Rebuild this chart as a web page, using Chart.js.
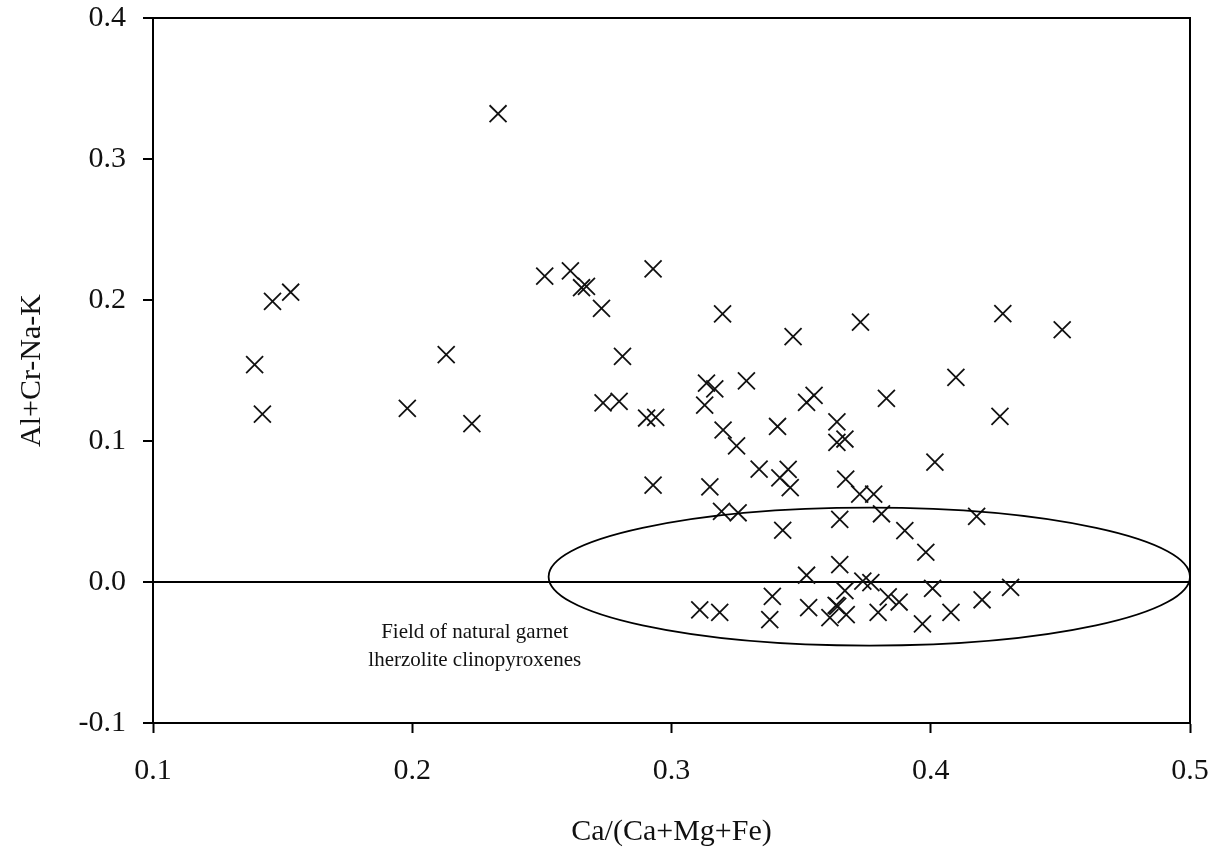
<!DOCTYPE html>
<html>
<head>
<meta charset="utf-8">
<script src="https://cdn.jsdelivr.net/npm/chart.js@4.4.1/dist/chart.umd.min.js"></script>
<style>
  html, body { margin: 0; padding: 0; background: #fff; }
  #wrap { width: 1217px; height: 854px; }
</style>
</head>
<body>
<div id="wrap"><canvas id="cpxChart" width="1217" height="854"></canvas></div>
<script>
// clinopyroxene analyses: Ca/(Ca+Mg+Fe) vs Al+Cr-Na-K
const caRatio = [
  0.1392, 0.1422, 0.1461, 0.1531, 0.1981, 0.2131, 0.2230, 0.2331, 0.2511, 0.2610,
  0.2653, 0.2672, 0.2730, 0.2811, 0.2929, 0.2736, 0.2798, 0.2904, 0.2939, 0.2929,
  0.3135, 0.3167, 0.3289, 0.3128, 0.3197, 0.3469, 0.3729, 0.4278, 0.4507, 0.4097,
  0.3829, 0.4267, 0.3521, 0.3550, 0.3199, 0.3251, 0.3409, 0.3638, 0.3638, 0.3669,
  0.3338, 0.3418, 0.3450, 0.3458, 0.3672, 0.3726, 0.3780, 0.4016, 0.3148, 0.3193,
  0.3257, 0.3429, 0.3649, 0.3810, 0.3900, 0.4177, 0.3981, 0.3521, 0.3649, 0.3738,
  0.3769, 0.3669, 0.3389, 0.3836, 0.3878, 0.4007, 0.4308, 0.4198, 0.4078, 0.3968,
  0.3797, 0.3674, 0.3611, 0.3635, 0.3641, 0.3529, 0.3379, 0.3109, 0.3186
];
const alCrNaK = [
  0.1541, 0.1191, 0.1990, 0.2055, 0.1231, 0.1612, 0.1123, 0.3321, 0.2169, 0.2206,
  0.2087, 0.2096, 0.1940, 0.1600, 0.2221, 0.1270, 0.1281, 0.1163, 0.1167, 0.0687,
  0.1411, 0.1369, 0.1426, 0.1254, 0.1901, 0.1740, 0.1843, 0.1903, 0.1789, 0.1451,
  0.1302, 0.1174, 0.1274, 0.1323, 0.1078, 0.0965, 0.1103, 0.1135, 0.0990, 0.1014,
  0.0801, 0.0738, 0.0799, 0.0670, 0.0730, 0.0623, 0.0623, 0.0850, 0.0674, 0.0501,
  0.0491, 0.0367, 0.0444, 0.0484, 0.0364, 0.0465, 0.0211, 0.0048, 0.0123, 0.0006,
  -0.0005, -0.0062, -0.0102, -0.0106, -0.0142, -0.0046, -0.0038, -0.0126, -0.0216, -0.0297,
  -0.0216, -0.0232, -0.0252, -0.0165, -0.0172, -0.0182, -0.0267, -0.0197, -0.0216
];

// garnet lherzolite field drawn as an ellipse (centre and half-widths in data units)
const fieldCenter = [0.3763, 0.0038];
const fieldRadius = [0.1237, 0.0489];
const fieldLabel = ["Field of natural garnet", "lherzolite clinopyroxenes"];
const fieldLabelPos = [0.2241, -0.0459];

const xTitle = "Ca/(Ca+Mg+Fe)";
const yTitle = "Al+Cr-Na-K";
const serif = "'Liberation Serif', 'Times New Roman', serif";

let points = [];
for (let i = 0; i < caRatio.length; i++) {
    points.push({ x: caRatio[i], y: alCrNaK[i] });
}

const framePlugin = {
    id: 'frame',
    afterDatasetsDraw(chart) {
        const ctx = chart.ctx;
        const xs = chart.scales.x, ys = chart.scales.y;
        const a = chart.chartArea;
        ctx.save();
        ctx.strokeStyle = '#000';
        ctx.lineWidth = 2;
        ctx.strokeRect(a.left, a.top, a.right - a.left, a.bottom - a.top);

        // field ellipse
        const cx = xs.getPixelForValue(fieldCenter[0]);
        const cy = ys.getPixelForValue(fieldCenter[1]);
        const rx = xs.getPixelForValue(fieldCenter[0] + fieldRadius[0]) - cx;
        const ry = cy - ys.getPixelForValue(fieldCenter[1] + fieldRadius[1]);
        ctx.beginPath();
        ctx.ellipse(cx, cy, rx, ry, 0, 0, Math.PI * 2);
        ctx.lineWidth = 1.8;
        ctx.stroke();

        // field label
        ctx.fillStyle = '#111';
        ctx.font = "21px " + serif;
        ctx.textAlign = 'center';
        ctx.textBaseline = 'middle';
        const lx = xs.getPixelForValue(fieldLabelPos[0]);
        const ly = ys.getPixelForValue(fieldLabelPos[1]);
        ctx.fillText(fieldLabel[0], lx, ly - 14);
        ctx.fillText(fieldLabel[1], lx, ly + 14);
        ctx.restore();
    }
};

new Chart("cpxChart", {
    type: "scatter",
    data: {
        datasets: [{
            data: points,
            pointStyle: 'crossRot',
            pointRadius: 12,
            pointHoverRadius: 12,
            borderColor: '#111',
            borderWidth: 1.8,
            backgroundColor: '#111'
        }]
    },
    options: {
        responsive: false,
        animation: false,
        events: [],
        layout: { padding: { top: 18, right: 27, left: 0, bottom: 0 } },
        plugins: {
            legend: { display: false },
            tooltip: { enabled: false }
        },
        scales: {
            x: {
                type: 'linear',
                min: 0.1,
                max: 0.5,
                afterFit: (scale) => {
                    scale.height = 131;
                    scale.paddingLeft = 0;
                    scale.paddingRight = 0;
                },
                ticks: {
                    stepSize: 0.1,
                    color: '#111',
                    font: { family: serif, size: 30 },
                    padding: 20,
                    callback: (v) => v.toFixed(1)
                },
                grid: {
                    drawOnChartArea: false,
                    tickColor: '#000',
                    tickLength: 10,
                    tickWidth: 2
                },
                border: { color: '#000', width: 2 },
                title: {
                    display: true,
                    text: xTitle,
                    color: '#111',
                    font: { family: serif, size: 30 },
                    padding: { top: 16 }
                }
            },
            y: {
                type: 'linear',
                min: -0.1,
                max: 0.4,
                afterFit: (scale) => {
                    scale.width = 153;
                    scale.paddingTop = 0;
                    scale.paddingBottom = 0;
                },
                ticks: {
                    stepSize: 0.1,
                    color: '#111',
                    font: { family: serif, size: 30 },
                    padding: 17,
                    callback: (v) => v.toFixed(1)
                },
                grid: {
                    color: (c) => (c.tick && Math.abs(c.tick.value) < 1e-9) ? '#000' : 'rgba(0,0,0,0)',
                    lineWidth: 2,
                    tickColor: '#000',
                    tickLength: 10,
                    tickWidth: 2
                },
                border: { color: '#000', width: 2 },
                title: {
                    display: true,
                    text: yTitle,
                    color: '#111',
                    font: { family: serif, size: 30 },
                    padding: { top: 14, bottom: 0 }
                }
            }
        }
    },
    plugins: [framePlugin]
});
</script>
</body>
</html>
